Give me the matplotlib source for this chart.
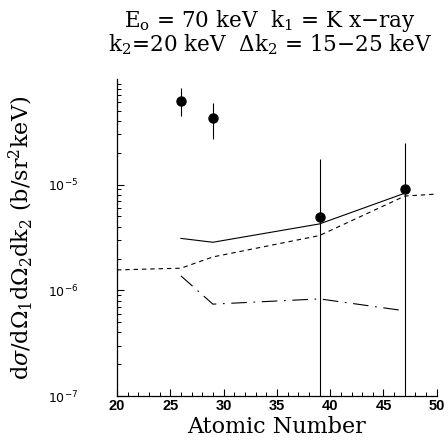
import numpy as np
import matplotlib.pyplot as plt
from matplotlib.ticker import MultipleLocator, LogLocator, NullFormatter

plt.rcParams['mathtext.fontset'] = 'dejavuserif'
plt.rcParams['font.family'] = 'DejaVu Serif'

# data points with error bars
z_data = [26, 29, 39, 47]
sig_data = [6.2e-5, 4.3e-5, 4.9e-6, 9.1e-6]
sig_hi = [8.2e-5, 5.9e-5, 1.75e-5, 2.5e-5]
sig_lo = [4.5e-5, 2.7e-5, 5e-8, 5e-8]

# theory curves
z_solid = [26, 29, 39, 47]
sig_solid = [3.1e-6, 2.85e-6, 4.25e-6, 8.3e-6]

z_dash = [20, 26, 29, 39, 47, 50]
sig_dash = [1.56e-6, 1.62e-6, 2.07e-6, 3.3e-6, 7.8e-6, 8.15e-6]

z_dashdot = [26, 29, 39, 47]
sig_dashdot = [1.37e-6, 7.4e-7, 8.3e-7, 6.4e-7]

fig = plt.figure(figsize=(4.48, 4.40), dpi=100)
ax = fig.add_axes([0.261, 0.1, 0.714, 0.7205])

ax.plot(z_solid, sig_solid, color='k', lw=0.8)
ax.plot(z_dash, sig_dash, color='k', lw=0.8, dashes=(4, 3.5))
ax.plot(z_dashdot, sig_dashdot, color='k', lw=0.8, dashes=(14, 6, 1.5, 6))

yerr = [np.array(sig_data) - np.array(sig_lo), np.array(sig_hi) - np.array(sig_data)]
ax.errorbar(z_data, sig_data, yerr=yerr, fmt='o', color='k', ms=6.5, elinewidth=0.8, capsize=0)

ax.set_yscale('log')
ax.set_xlim(20, 50)
ax.set_ylim(1e-7, 1e-4)

ax.spines['top'].set_visible(False)
ax.spines['right'].set_visible(False)
for s in ['left', 'bottom']:
    ax.spines[s].set_linewidth(0.9)

ax.xaxis.set_minor_locator(MultipleLocator(1))
ax.set_xticks([20, 25, 30, 35, 40, 45, 50])
ax.set_xticklabels(['20', '25', '30', '35', '40', '45', '50'],
                   family='Liberation Sans', weight='bold', fontsize=10.5)

ax.set_yticks([1e-7, 1e-6, 1e-5])
ax.set_yticklabels([r'$\mathsf{10^{-7}}$', r'$\mathsf{10^{-6}}$', r'$\mathsf{10^{-5}}$'], fontsize=9)
ax.yaxis.set_minor_locator(LogLocator(base=10, subs=np.arange(2, 10)))
ax.yaxis.set_minor_formatter(NullFormatter())

ax.tick_params(axis='both', which='major', direction='in', length=5, width=0.8)
ax.tick_params(axis='both', which='minor', direction='in', length=3, width=0.7)
ax.tick_params(axis='y', which='major', pad=28)
ax.tick_params(axis='x', which='major', pad=2)

ax.set_xlabel('Atomic Number', fontsize=16, labelpad=2)
ax.set_ylabel(r'd$\sigma$/d$\Omega_1$d$\Omega_2$dk$_2$ (b/sr$^2$keV)', fontsize=16, labelpad=9)

fig.text(0.603, 0.953, r'E$_\mathrm{o}$ = 70 keV  k$_1$ = K x$-$ray', ha='center', va='center', fontsize=15.5)
fig.text(0.603, 0.898, r'k$_2$=20 keV  $\Delta$k$_2$ = 15$-$25 keV', ha='center', va='center', fontsize=15.5)

fig.savefig('out.png', dpi=100)
